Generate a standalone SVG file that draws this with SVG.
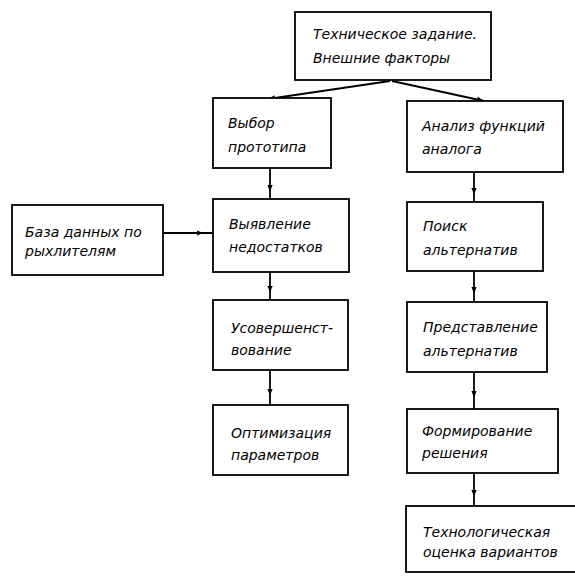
<svg xmlns="http://www.w3.org/2000/svg" width="575" height="577" viewBox="0 0 575 577">
<defs>
<style>
.box{fill:#fff;stroke:#000;stroke-width:1.8}
.t{font-family:"DejaVu Sans","Liberation Sans",sans-serif;font-style:italic;font-size:14px;fill:#000}
.c{fill:none;stroke:#000;stroke-width:1.8}
</style>
<marker id="ah" viewBox="0 0 10 10" refX="5" refY="5" markerWidth="7" markerHeight="7" orient="auto" markerUnits="userSpaceOnUse">
<path d="M0,1 L10,5 L0,9 Z" fill="#000"/>
</marker>
<marker id="ae" viewBox="0 0 10 10" refX="10" refY="5" markerWidth="9" markerHeight="7" orient="auto" markerUnits="userSpaceOnUse">
<path d="M0,1 L10,5 L0,9 Z" fill="#000"/>
</marker>
</defs>
<rect width="575" height="577" fill="#fff"/>
<g id="connectors">
<path class="c" d="M390,81 L268,99" marker-end="url(#ae)"/>
<path class="c" d="M392,81 L484,101" marker-end="url(#ae)"/>
<path class="c" d="M163,233 L200,233 L213,233" marker-mid="url(#ah)"/>
<path class="c" d="M270,168 L270,188 L270,199" marker-mid="url(#ah)"/>
<path class="c" d="M270,272 L270,289 L270,300" marker-mid="url(#ah)"/>
<path class="c" d="M270,370 L270,392 L270,405" marker-mid="url(#ah)"/>
<path class="c" d="M474,172 L474,191 L474,202" marker-mid="url(#ah)"/>
<path class="c" d="M474,271 L474,290 L474,302" marker-mid="url(#ah)"/>
<path class="c" d="M474,372 L474,394 L474,409" marker-mid="url(#ah)"/>
<path class="c" d="M474,473 L474,493 L474,506" marker-mid="url(#ah)"/>
</g>
<g id="n-tz">
<rect class="box" x="295" y="12" width="196" height="68"/>
<text class="t" x="313" y="39">Техническое задание.</text>
<text class="t" x="313" y="63">Внешние факторы</text>
</g>
<g id="n-vybor">
<rect class="box" x="213" y="98" width="118" height="70"/>
<text class="t" x="228" y="128">Выбор</text>
<text class="t" x="228" y="152">прототипа</text>
</g>
<g id="n-analiz">
<rect class="box" x="407" y="101" width="156" height="71"/>
<text class="t" x="422" y="131">Анализ функций</text>
<text class="t" x="422" y="154">аналога</text>
</g>
<g id="n-baza">
<rect class="box" x="12" y="205" width="151" height="70"/>
<text class="t" x="25" y="237">База данных по</text>
<text class="t" x="25" y="256">рыхлителям</text>
</g>
<g id="n-vyyavl">
<rect class="box" x="213" y="199" width="136" height="73"/>
<text class="t" x="229" y="229">Выявление</text>
<text class="t" x="229" y="252">недостатков</text>
</g>
<g id="n-poisk">
<rect class="box" x="407" y="202" width="136" height="69"/>
<text class="t" x="423" y="231">Поиск</text>
<text class="t" x="423" y="255">альтернатив</text>
</g>
<g id="n-usov">
<rect class="box" x="213" y="300" width="135" height="70"/>
<text class="t" x="231" y="333">Усовершенст-</text>
<text class="t" x="231" y="355">вование</text>
</g>
<g id="n-predst">
<rect class="box" x="407" y="302" width="140" height="70"/>
<text class="t" x="423" y="332">Представление</text>
<text class="t" x="423" y="356">альтернатив</text>
</g>
<g id="n-optim">
<rect class="box" x="213" y="405" width="135" height="70"/>
<text class="t" x="231" y="438">Оптимизация</text>
<text class="t" x="231" y="460">параметров</text>
</g>
<g id="n-form">
<rect class="box" x="407" y="409" width="151" height="64"/>
<text class="t" x="422" y="436">Формирование</text>
<text class="t" x="422" y="458">решения</text>
</g>
<g id="n-tekh">
<rect class="box" x="406" y="506" width="180" height="66"/>
<text class="t" x="423" y="537">Технологическая</text>
<text class="t" x="423" y="557">оценка вариантов</text>
</g>
</svg>
